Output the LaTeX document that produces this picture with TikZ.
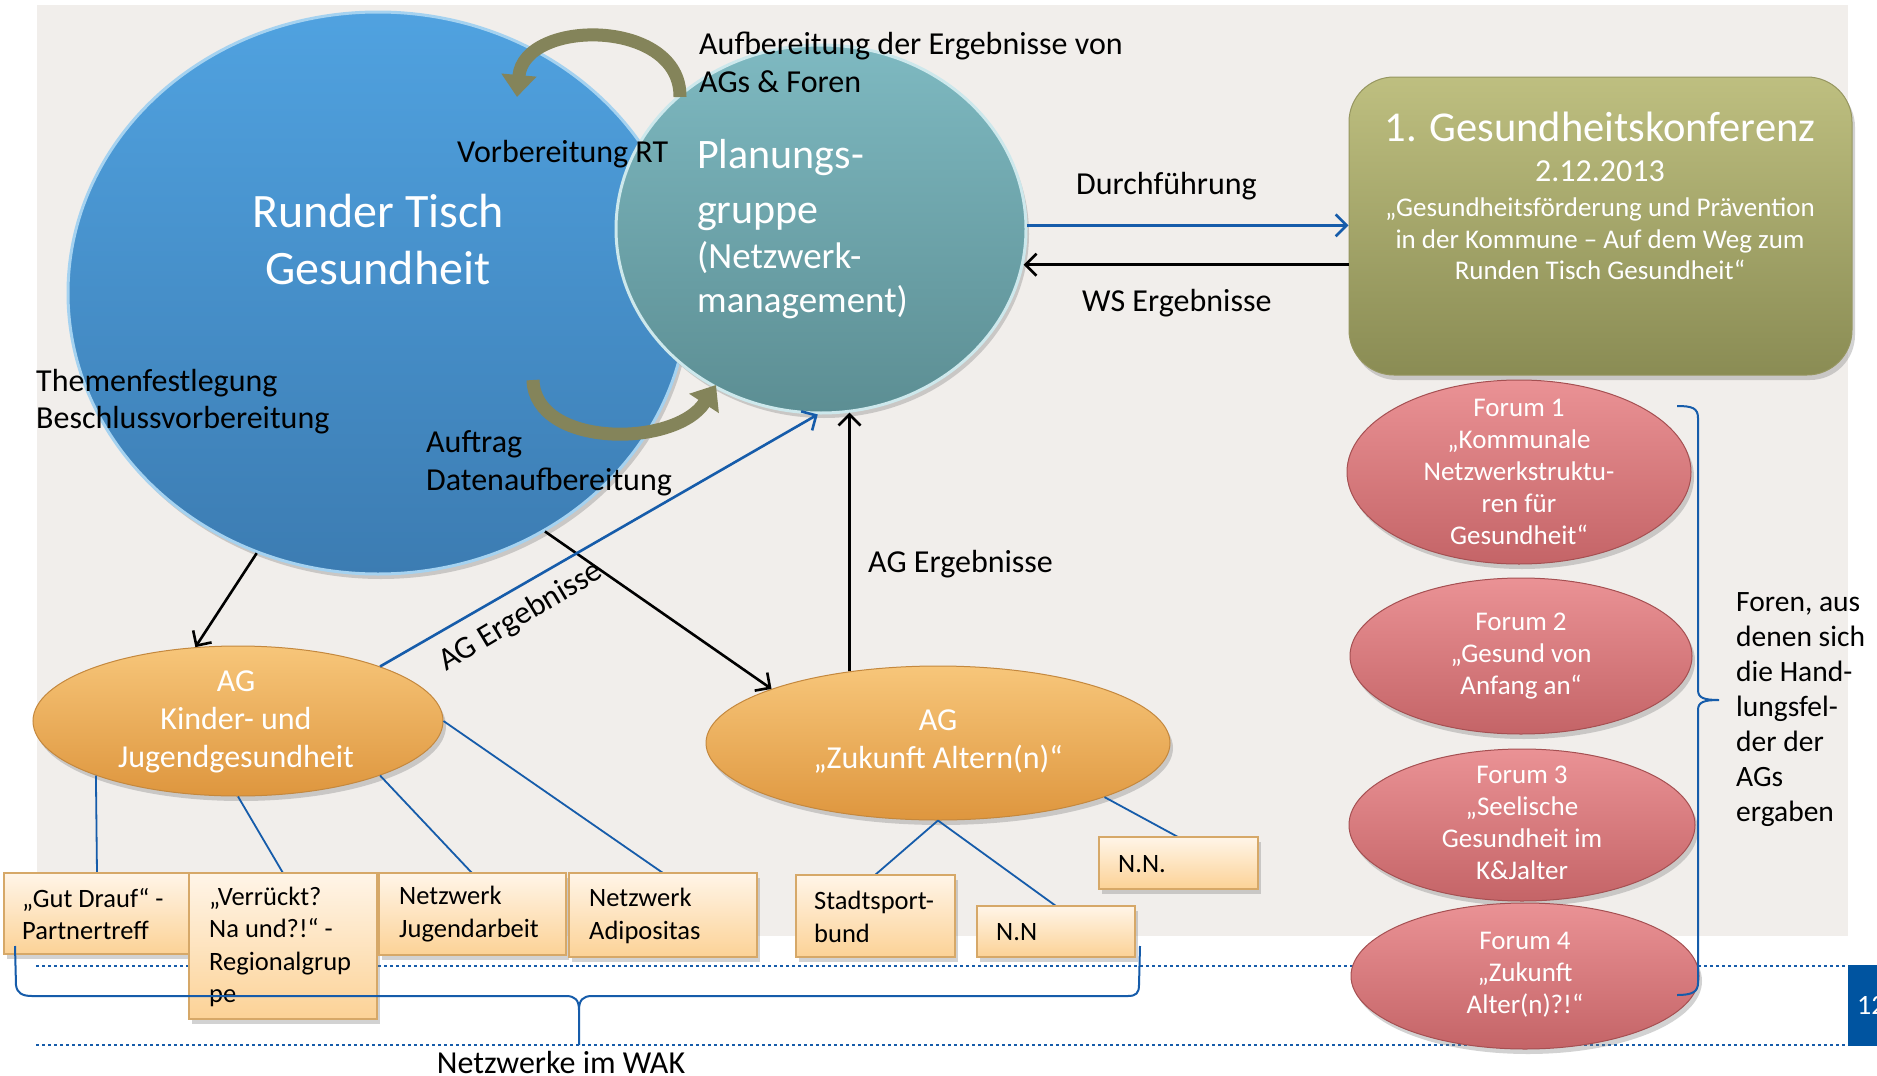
\documentclass[tikz,border=0pt]{standalone}
\usepackage{fontspec}
\setmainfont{Carlito}
\usetikzlibrary{arrows.meta,shapes.geometric,shadows}
\newcommand\fsz[2]{\fontsize{#1pt}{#2pt}\selectfont}

\definecolor{bggray}{RGB}{241,238,235}
\definecolor{rtTop}{RGB}{80,162,224}
\definecolor{rtBot}{RGB}{60,124,178}
\definecolor{rtRim}{RGB}{165,210,240}
\definecolor{pgTop}{RGB}{126,185,193}
\definecolor{pgBot}{RGB}{92,142,147}
\definecolor{pgRim}{RGB}{205,232,236}
\definecolor{kfTop}{RGB}{190,191,128}
\definecolor{kfBot}{RGB}{138,140,84}
\definecolor{kfLine}{RGB}{150,150,96}
\definecolor{agTop}{RGB}{247,198,122}
\definecolor{agBot}{RGB}{222,150,62}
\definecolor{agLine}{RGB}{196,136,62}
\definecolor{foTop}{RGB}{234,146,149}
\definecolor{foBot}{RGB}{196,100,103}
\definecolor{foLine}{RGB}{165,80,82}
\definecolor{bxTop}{RGB}{255,245,232}
\definecolor{bxBot}{RGB}{252,210,150}
\definecolor{bxLine}{RGB}{214,168,104}
\definecolor{lineBlue}{RGB}{22,92,170}
\definecolor{pageBlue}{RGB}{0,84,160}
\definecolor{oliveArr}{RGB}{132,132,90}

\begin{document}
\begin{tikzpicture}[x=1pt,y=-1pt,
  softshadow/.style={drop shadow={opacity=0.35,shadow xshift=3pt,shadow yshift=-5pt}},
  blob/.style={ellipse,inner sep=0pt},
  rtstyle/.style={blob,minimum width=620pt,minimum height=562pt,top color=rtTop,bottom color=rtBot,draw=rtRim,line width=3pt,softshadow},
  pgstyle/.style={blob,minimum width=410pt,minimum height=368pt,top color=pgTop,bottom color=pgBot,draw=pgRim,line width=3pt,softshadow},
  kfstyle/.style={rectangle,rounded corners=45pt,minimum width=503pt,minimum height=298pt,top color=kfTop,bottom color=kfBot,draw=kfLine,line width=1pt,softshadow},
  agstyle/.style={blob,top color=agTop,bottom color=agBot,draw=agLine,line width=1pt,softshadow},
  fostyle/.style={blob,top color=foTop,bottom color=foBot,draw=foLine,line width=1pt,softshadow},
  bxstyle/.style={rectangle,inner sep=0pt,top color=bxTop,bottom color=bxBot,draw=bxLine,line width=1.5pt,softshadow},
  wtxt/.style={text=white,align=center,inner sep=0pt},
  lbl/.style={text=black,align=left,inner sep=0pt,anchor=west,font=\fsz{32}{38}},
  bxtxt/.style={text=black,align=left,inner sep=0pt,anchor=west,font=\fsz{26.5}{32.5}},
  fotxt/.style={wtxt,font=\fsz{27}{32}},
  blackarr/.style={draw=black,line width=2.6pt,-{Straight Barb[length=11pt,width=22pt]}},
  bluearr/.style={draw=lineBlue,line width=2.6pt,-{Straight Barb[length=11pt,width=22pt]}},
  thinblue/.style={draw=lineBlue,line width=1.8pt},
  olivearr/.style={draw=oliveArr,line width=13pt,-{Triangle[length=22pt,width=34pt]}},
  bracestyle/.style={draw=lineBlue,line width=2pt},
  dotline/.style={draw=lineBlue,line width=2.5pt,dash pattern=on 3pt off 3pt}
]
\useasboundingbox (0,0) rectangle (1877,1076);
\fill[white] (0,0) rectangle (1877,1076);
\fill[bggray] (37,5) rectangle (1848,936);

% dotted footer rules and page number tab
\draw[dotline] (36,966) -- (1848,966);
\draw[dotline] (36,1045) -- (1848,1045);
\fill[pageBlue] (1848,965) rectangle (1877,1046);
\node[wtxt,anchor=west,font=\fsz{28}{34}] (pnum) at (1857,1005) {12};

% main circles
\node[rtstyle] (rt) at (378,293) {};
\node[wtxt,font=\fsz{48}{57}] (rtt) at (378,240) {Runder Tisch\\Gesundheit};
\node[pgstyle] (pg) at (821,229) {};
\node[wtxt,align=left,anchor=west,font=\fsz{42}{55}] (pgt1) at (697,185) {Planungs-\\gruppe};
\node[wtxt,align=left,anchor=west,font=\fsz{37}{44}] (pgt2) at (697,280) {(Netzwerk-\\management)};

% cycle arrows between the circles
\draw[olivearr] (680,97) .. controls (681,18) and (524,18) .. (517,97);
\draw[olivearr] (533,380) .. controls (535,448) and (675,448) .. (716,385);

% conference box
\node[kfstyle] (kf) at (1600.5,226) {};
\node[wtxt,font=\fsz{42.5}{48}] (kf1) at (1600,127) {1. Gesundheitskonferenz};
\node[wtxt,font=\fsz{32}{38}] (kf2) at (1600,171) {2.12.2013};
\node[wtxt,font=\fsz{27}{31.5}] (kf3) at (1600,239) {„Gesundheitsförderung und Prävention\\in der Kommune – Auf dem Weg zum\\Runden Tisch Gesundheit“};

% working groups
\node[agstyle,minimum width=410pt,minimum height=150pt] (agk) at (238,721) {};
\node[wtxt,font=\fsz{32}{38}] (agkt) at (236,722) {AG\\Kinder- und\\Jugendgesundheit};
\node[agstyle,minimum width=464pt,minimum height=154pt] (agz) at (938,743) {};
\node[wtxt,font=\fsz{32}{38}] (agzt) at (938,742) {AG\\„Zukunft Altern(n)“};

% forums
\node[fostyle,minimum width=344pt,minimum height=184pt] (f1) at (1519,472) {};
\node[fotxt] (f1t) at (1519,472) {Forum 1\\„Kommunale\\Netzwerkstruktu-\\ren für\\Gesundheit“};
\node[fostyle,minimum width=342pt,minimum height=156pt] (f2) at (1521,656) {};
\node[fotxt] (f2t) at (1521,656) {Forum 2\\„Gesund von\\Anfang an“};
\node[fostyle,minimum width=346pt,minimum height=152pt] (f3) at (1522,825) {};
\node[fotxt] (f3t) at (1522,823) {Forum 3\\„Seelische\\Gesundheit im\\K\&Jalter};
\node[fostyle,minimum width=348pt,minimum height=146pt] (f4) at (1525,976) {};
\node[fotxt] (f4t) at (1525,975) {Forum 4\\„Zukunft\\Alter(n)?!“};

% flows between the bodies
\draw[bluearr] (pg.1) -- (pg.1 -| kf.west);
\draw[blackarr] (pg.-10 -| kf.west) -- (pg.-10);
\draw[blackarr] (rt.245) -- (agk.120);
\draw[blackarr] (rt.305) -- (agz.162);
\draw[bluearr] (agk.21) -- (pg.269);
\draw[blackarr] (agz.141) -- (agz.141 |- pg.279);

% connectors to the networks
\draw[thinblue] (agk.201) -- (97,873);
\draw[thinblue] (agk.south) -- (283,873);
\draw[thinblue] (agk.339) -- (472,873);
\draw[thinblue] (agk.east) -- (663,873);
\draw[thinblue] (agz.south) -- (875,875);
\draw[thinblue] (agz.south) -- (1056,906);
\draw[thinblue] (agz.342) -- (1178,837);

% network boxes
\node[bxstyle,minimum width=185pt,minimum height=81pt] (b1) at (96.5,913.5) {};
\node[bxstyle,minimum width=188pt,minimum height=146pt] (b2) at (283,946) {};
\node[bxstyle,minimum width=187pt,minimum height=82pt] (b3) at (472.5,914) {};
\node[bxstyle,minimum width=188pt,minimum height=84pt] (b4) at (663,915) {};
\node[bxstyle,minimum width=159pt,minimum height=82pt] (b5) at (875.5,916) {};
\node[bxstyle,minimum width=158pt,minimum height=51pt] (b6) at (1056,931.5) {};
\node[bxstyle,minimum width=159pt,minimum height=52pt] (b7) at (1178.5,863) {};
\node[bxtxt] (b1t) at (22,914) {„Gut Drauf“ -\\Partnertreff};
\node[bxtxt] (b2t) at (209,947) {„Verrückt?\\Na und?!“ -\\Regionalgrup\\pe};
\node[bxtxt] (b3t) at (399,914) {Netzwerk\\Jugendarbeit};
\node[bxtxt] (b4t) at (589,916) {Netzwerk\\Adipositas};
\node[bxtxt] (b5t) at (814,917) {Stadtsport-\\bund};
\node[bxtxt] (b6t) at (996,932) {N.N};
\node[bxtxt] (b7t) at (1118,864) {N.N.};

% labels
\node[lbl] (l1) at (699,62) {Aufbereitung der Ergebnisse von\\AGs \& Foren};
\node[lbl] (l2) at (457,154) {Vorbereitung RT};
\node[lbl] (l3) at (1076,186) {Durchführung};
\node[lbl] (l4) at (1082,303) {WS Ergebnisse};
\node[lbl,font=\fsz{32}{37}] (l5) at (36,402) {Themenfestlegung\\Beschlussvorbereitung};
\node[lbl] (l6) at (426,463) {Auftrag\\Datenaufbereitung};
\node[lbl,anchor=center,rotate=31] (l7) at (521,617) {AG Ergebnisse};
\node[lbl] (l8) at (868,564) {AG Ergebnisse};
\node[lbl,font=\fsz{29.5}{35}] (l9) at (1736,710) {Foren, aus\\denen sich\\die Hand-\\lungsfel-\\der der\\AGs\\ergaben};
\node[lbl,anchor=center] (l10) at (561,1062) {Netzwerke im WAK};

% braces
\draw[bracestyle] (1677,406) .. controls (1692,406) and (1698,408) .. (1698,418)
  -- (1698,690) .. controls (1698,698) and (1704,700) .. (1719,700)
  .. controls (1704,700) and (1698,702) .. (1698,710)
  -- (1698,983) .. controls (1698,992) and (1692,995) .. (1677,995);
\draw[bracestyle] (15,946) -- (16,985) .. controls (17,993) and (22,996) .. (32,996)
  -- (566,996) .. controls (575,996) and (579,1000) .. (579,1010) -- (579,1045)
  -- (579,1010) .. controls (579,1000) and (583,996) .. (592,996)
  -- (1128,996) .. controls (1136,996) and (1139,993) .. (1139,985) -- (1140,946);
\end{tikzpicture}
\end{document}
